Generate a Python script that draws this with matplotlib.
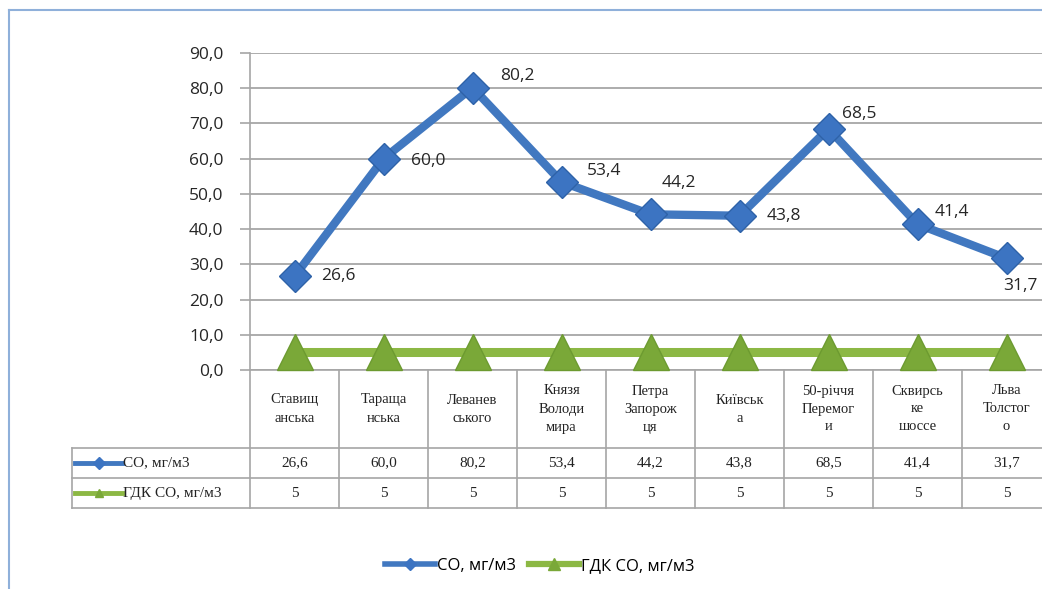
import matplotlib
matplotlib.use('Agg')
import matplotlib.pyplot as plt
from matplotlib.lines import Line2D
import matplotlib.transforms as mtransforms

# data
streets = ['Ставищ\nанська', 'Тараща\nнська', 'Леванев\nського', 'Князя\nВолоди\nмира',
           'Петра\nЗапорож\nця', 'Київськ\nа', '50-річчя\nПеремог\nи', 'Сквирсь\nке\nшоссе',
           'Льва\nТолстог\nо']
co = [26.6, 60.0, 80.2, 53.4, 44.2, 43.8, 68.5, 41.4, 31.7]
gdk = [5, 5, 5, 5, 5, 5, 5, 5, 5]
series_names = ['СО, мг/м3', 'ГДК СО, мг/м3']
yticks = [0, 10, 20, 30, 40, 50, 60, 70, 80, 90]

# label offsets in pixels (position only)
lab_off = [(27, 0), (27, -2), (28, 12), (25, 11), (11, 31), (27, 0), (13, 15), (17, 12), (-3, -28)]

blue = '#4178c0'
green = '#8cb844'
grid_c = '#a6a6a6'
sans = ['Open Sans', 'DejaVu Sans']
serif = ['Liberation Serif', 'DejaVu Serif']

W, H = 1042, 589
fig = plt.figure(figsize=(W / 100, H / 100), dpi=100)
fig.patch.set_facecolor('white')

x0, y0, x1, y1 = 250, 53, 1051, 370
ax = fig.add_axes([x0 / W, 1 - y1 / H, (x1 - x0) / W, (y1 - y0) / H])
x = list(range(len(co)))

ax.plot(x, gdk, color=green, lw=6.5, marker='^', ms=26, mfc='#7aa838', mec='#6c9a30',
        solid_capstyle='butt', zorder=3, clip_on=False)
ax.plot(x, co, color=blue, lw=6, marker='D', ms=16, mfc='#3c74c2', mec='#2e62a8',
        mew=1, zorder=4, clip_on=False)

for i, v in enumerate(co):
    dx, dy = lab_off[i]
    ax.annotate(f'{v:.1f}'.replace('.', ','), (i, v), xytext=(dx, dy), textcoords='offset pixels',
                ha='left', va='center', fontsize=12.5, family=sans, color='#262626', zorder=5)

ax.set_xlim(-0.5, len(co) - 0.5)
ax.set_ylim(0, 90)
ax.set_yticks(yticks)
ax.set_yticklabels([f'{t:.1f}'.replace('.', ',') for t in yticks], family=sans, fontsize=12.5,
                   color='#262626')
ax.set_xticks([])
ax.grid(axis='y', color=grid_c, lw=1.3)
ax.set_axisbelow(True)
ax.tick_params(axis='y', length=7, width=1.2, color=grid_c, pad=12)
for s in ['top', 'right']:
    ax.spines[s].set_visible(False)
ax.spines['left'].set_color(grid_c)
ax.spines['bottom'].set_color(grid_c)
ax.spines['left'].set_linewidth(1.2)
ax.spines['bottom'].set_linewidth(1.2)

# data table under the axis
tr = mtransforms.blended_transform_factory(ax.transData, ax.transAxes)
ph = (y1 - y0)


def ay(py):
    return (y1 - py) / ph


r1, r2, r3 = ay(448), ay(478), ay(508)
line_kw = dict(color=grid_c, lw=1.2, transform=tr, clip_on=False)
for i in range(len(co) + 1):
    ax.plot([i - 0.5, i - 0.5], [0, r3], **line_kw)
left = -2.5
for yy in (r1, r2, r3):
    ax.plot([left, len(co) - 0.5], [yy, yy], **line_kw)
ax.plot([left, left], [r1, r3], **line_kw)

for i, name in enumerate(streets):
    ax.text(i, (0 + r1) / 2, name, transform=tr, ha='center', va='center', fontsize=10.5,
            family=serif, linespacing=1.5, color='#222222')
    ax.text(i, (r1 + r2) / 2, f'{co[i]:.1f}'.replace('.', ','), transform=tr, ha='center',
            va='center', fontsize=11, family=serif, color='#222222')
    ax.text(i, (r2 + r3) / 2, str(gdk[i]), transform=tr, ha='center', va='center',
            fontsize=11, family=serif, color='#222222')

# row headers with small legend keys
def key(ypix, color, marker, mfc):
    yf = 1 - ypix / H
    fig.add_artist(Line2D([75 / W, 122 / W], [yf, yf], color=color, lw=3.5))
    fig.add_artist(Line2D([99 / W], [yf], color=color, marker=marker, ms=6, mfc=mfc, mec=mfc))


key(463, blue, 'D', '#3c74c2')
key(493, green, '^', '#7aa838')
fig.text(123 / W, 1 - 463 / H, series_names[0], ha='left', va='center', fontsize=11,
         family=serif, color='#222222')
fig.text(123 / W, 1 - 493 / H, series_names[1], ha='left', va='center', fontsize=11,
         family=serif, color='#222222')

# bottom legend
handles = [Line2D([], [], color=blue, lw=4, marker='D', ms=6, mfc='#3c74c2', mec='#3c74c2'),
           Line2D([], [], color=green, lw=4.5, marker='^', ms=9, mfc='#7aa838', mec='#7aa838')]
fig.legend(handles, series_names, loc='center', bbox_to_anchor=(540 / W, 1 - 566 / H), ncol=2,
           frameon=False, prop={'family': sans, 'size': 12}, handlelength=3.0,
           handletextpad=0.1, columnspacing=0.8)

# outer frame of the chart area
fig.add_artist(Line2D([9 / W, 9 / W], [0, 1 - 10 / H], color='#8fb0da', lw=1.5))
fig.add_artist(Line2D([9 / W, 1], [1 - 10 / H, 1 - 10 / H], color='#8fb0da', lw=1.5))

fig.savefig('out.png', dpi=100)
